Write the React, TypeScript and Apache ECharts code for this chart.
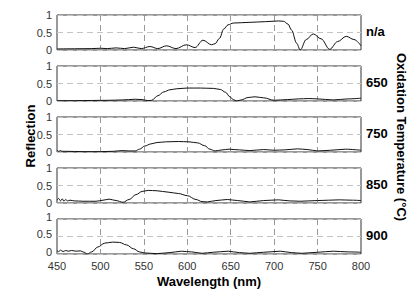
import React, { useEffect, useRef } from "react";
import * as echarts from "echarts";

const panelLabels = ["n/a", "650", "750", "850", "900"];
const xTicks = { min: 450, max: 800, step: 50 };
const yTicks = { min: 0, max: 1, step: 0.5 };

const seriesNA: [number, number][] = [
  [450, 0.03], [470, 0.035], [490, 0.04], [500, 0.05], [508, 0.04], [518, 0.06], [528, 0.04],
  [538, 0.08], [547, 0.04], [557, 0.1], [566, 0.04], [576, 0.12], [587, 0.04], [599, 0.15],
  [609, 0.07], [618, 0.28], [628, 0.15], [632, 0.18], [637, 0.33], [642, 0.6], [647, 0.72],
  [653, 0.77], [672, 0.79], [690, 0.81], [705, 0.83], [711, 0.82], [716, 0.74], [720, 0.57],
  [726, 0.19], [730, 0.0], [737, 0.3], [745, 0.46], [754, 0.32], [764, 0.02], [773, 0.24],
  [783, 0.39], [792, 0.3], [800, 0.12],
];

const series650: [number, number][] = [
  [450, 0.01], [470, 0.01], [490, 0.015], [510, 0.02], [525, 0.03], [540, 0.05], [548, 0.04],
  [555, 0.01], [559, 0.02], [566, 0.15], [573, 0.26], [580, 0.32], [588, 0.35], [600, 0.37],
  [615, 0.37], [630, 0.36], [638, 0.33], [644, 0.25], [649, 0.12], [653, 0.04], [657, 0.0],
  [662, 0.03], [670, 0.1], [678, 0.12], [688, 0.09], [700, 0.02], [715, 0.04], [728, 0.06],
  [740, 0.07], [750, 0.06], [768, 0.03], [785, 0.06], [800, 0.08],
];

const series750: [number, number][] = [
  [450, 0.05], [452, 0.02], [454, 0.04], [456, 0.02], [460, 0.02], [480, 0.01], [500, 0.01],
  [515, 0.02], [525, 0.04], [533, 0.03], [540, 0.03], [545, 0.08], [551, 0.17], [558, 0.23],
  [565, 0.27], [575, 0.29], [590, 0.3], [602, 0.29], [612, 0.26], [620, 0.18], [626, 0.08],
  [632, 0.03], [640, 0.06], [648, 0.08], [660, 0.06], [672, 0.04], [688, 0.07], [700, 0.05],
  [712, 0.06], [727, 0.09], [738, 0.07], [750, 0.03], [765, 0.05], [782, 0.08], [800, 0.05],
];

const series850: [number, number][] = [
  [450, 0.08], [452, 0.13], [454, 0.06], [456, 0.12], [458, 0.05], [460, 0.1], [462, 0.06],
  [465, 0.08], [470, 0.06], [480, 0.05], [495, 0.05], [503, 0.08], [510, 0.11], [518, 0.07],
  [526, 0.02], [533, 0.1], [541, 0.24], [548, 0.33], [555, 0.36], [565, 0.35], [578, 0.31],
  [590, 0.27], [600, 0.21], [610, 0.1], [617, 0.04], [623, 0.03], [633, 0.07], [646, 0.1],
  [658, 0.07], [672, 0.03], [688, 0.07], [705, 0.09], [718, 0.06], [730, 0.05], [750, 0.07],
  [775, 0.09], [790, 0.08], [800, 0.07],
];

const series900: [number, number][] = [
  [450, 0.1], [452, 0.07], [454, 0.11], [457, 0.07], [460, 0.1], [463, 0.08], [467, 0.1],
  [472, 0.08], [477, 0.09], [481, 0.05], [485, 0.0], [490, 0.06], [497, 0.2], [505, 0.31],
  [514, 0.34], [522, 0.33], [530, 0.26], [538, 0.15], [545, 0.06], [551, 0.03], [565, 0.01],
  [580, 0.04], [593, 0.08], [605, 0.06], [617, 0.02], [630, 0.05], [647, 0.08], [660, 0.04],
  [672, 0.02], [688, 0.05], [707, 0.08], [720, 0.04], [732, 0.02], [750, 0.05], [768, 0.08],
  [785, 0.06], [800, 0.05],
];

const allSeries = [seriesNA, series650, series750, series850, series900];

const FONT = "Liberation Sans, Arial, sans-serif";
const gridTops = [15, 66, 117, 168, 219];
const gridHeight = 35;
const gridLeft = 57;
const gridWidth = 304;

export default function App() {
  const ref = useRef<HTMLDivElement>(null);

  useEffect(() => {
    if (!ref.current) return;
    const chart = echarts.init(ref.current, null, { renderer: "svg" });
    const n = allSeries.length;

    const grid = gridTops.map((top) => ({
      left: gridLeft,
      top,
      width: gridWidth,
      height: gridHeight,
      show: true,
      borderColor: "#333",
      borderWidth: 1,
      backgroundColor: "#fff",
      containLabel: false,
    }));

    const xAxis = allSeries.map((_, i) => ({
      type: "value",
      gridIndex: i,
      min: xTicks.min,
      max: xTicks.max,
      interval: xTicks.step,
      axisLine: { show: false },
      axisTick: { show: false },
      axisLabel: {
        show: i === n - 1,
        color: "#333",
        fontSize: 11,
        fontFamily: FONT,
        margin: 6,
      },
      splitLine: { show: true, lineStyle: { color: "#999", type: [6, 4], width: 1 } },
    }));

    const yAxis = allSeries.map((_, i) => ({
      type: "value",
      gridIndex: i,
      min: yTicks.min,
      max: yTicks.max,
      interval: yTicks.step,
      axisLine: { show: false },
      axisTick: { show: false },
      axisLabel: {
        show: true,
        color: "#333",
        fontSize: 11,
        fontFamily: FONT,
        margin: 5,
        lineHeight: 11,
        verticalAlign: i === n - 1 ? "bottom" : "middle",
        padding: i === n - 1 ? [0, 0, -3, 0] : 0,
      },
      splitLine: { show: true, lineStyle: { color: "#c4c4c4", type: [6, 4], width: 1 } },
    }));

    const series = allSeries.map((data, i) => ({
      type: "line",
      xAxisIndex: i,
      yAxisIndex: i,
      data,
      smooth: 0.35,
      smoothMonotone: "x",
      showSymbol: false,
      symbol: "none",
      lineStyle: { color: "#111", width: 1 },
      z: 5,
    }));

    const graphic: any[] = panelLabels.map((label, i) => ({
      type: "text",
      left: 366,
      top: gridTops[i] + gridHeight / 2 - 8,
      style: {
        text: label,
        font: `bold 13px ${FONT}`,
        fill: "#000",
      },
    }));
    graphic.push({
      type: "text",
      x: 30,
      y: 136,
      rotation: Math.PI / 2,
      style: {
        text: "Reflection",
        font: `bold 13px ${FONT}`,
        fill: "#000",
        align: "center",
        verticalAlign: "middle",
      },
    });
    graphic.push({
      type: "text",
      x: 401,
      y: 137,
      rotation: -Math.PI / 2,
      style: {
        text: "Oxidation Temperature (°C)",
        font: `bold 13px ${FONT}`,
        fill: "#000",
        align: "center",
        verticalAlign: "middle",
      },
    });
    graphic.push({
      type: "text",
      x: 209,
      y: 281,
      style: {
        text: "Wavelength (nm)",
        font: `bold 13px ${FONT}`,
        fill: "#000",
        align: "center",
        verticalAlign: "middle",
      },
    });

    chart.setOption({
      animation: false,
      backgroundColor: "#fff",
      grid,
      xAxis,
      yAxis,
      series,
      graphic,
    } as any);

    return () => chart.dispose();
  }, []);

  return (
    <div
      ref={ref}
      style={{ position: "fixed", left: 0, top: 0, width: 415, height: 300, background: "#fff" }}
    />
  );
}
